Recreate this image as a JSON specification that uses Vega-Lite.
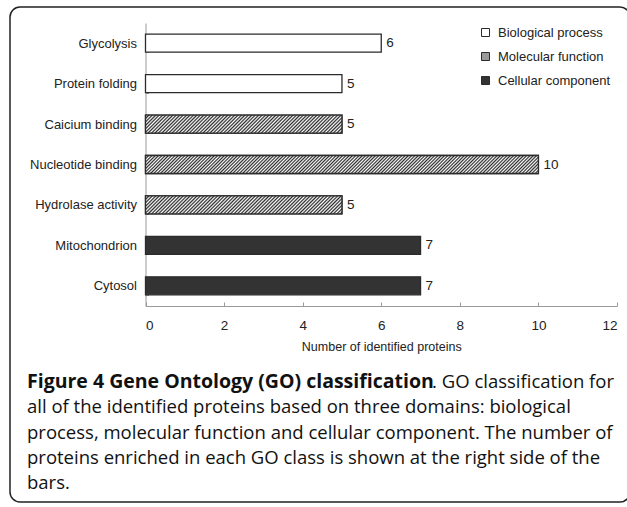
{
  "$schema": "https://vega.github.io/schema/vega-lite/v6.json",
  "width": 620,
  "height": 495,
  "autosize": "none",
  "padding": {"left": 10, "top": 7, "right": -3, "bottom": 5},
  "background": "white",
  "config": {
    "view": {"stroke": "#222222", "strokeWidth": 1.5, "cornerRadius": 10, "fill": "white"},
    "font": "Liberation Sans"
  },
  "datasets": {
    "go": [
      {"term": "Glycolysis", "domain": "Biological process", "count": 6},
      {"term": "Protein folding", "domain": "Biological process", "count": 5},
      {"term": "Caicium binding", "domain": "Molecular function", "count": 5},
      {"term": "Nucleotide binding", "domain": "Molecular function", "count": 10},
      {"term": "Hydrolase activity", "domain": "Molecular function", "count": 5},
      {"term": "Mitochondrion", "domain": "Cellular component", "count": 7},
      {"term": "Cytosol", "domain": "Cellular component", "count": 7}
    ],
    "caption": [
      {"line": 1, "part": "head", "text": "Figure 4 Gene Ontology (GO) classification"},
      {"line": 1, "part": "tail", "text": ". GO classification for"},
      {"line": 2, "part": "body", "text": "all of the identified proteins based on three domains: biological"},
      {"line": 3, "part": "body", "text": "process, molecular function and cellular component. The number of"},
      {"line": 4, "part": "body", "text": "proteins enriched in each GO class is shown at the right side of the"},
      {"line": 5, "part": "body", "text": "bars."}
    ]
  },
  "layer": [
    {
      "data": {"name": "go"},
      "encoding": {
        "y": {
          "field": "term",
          "type": "nominal",
          "sort": null,
          "scale": {"range": [16, 299], "paddingInner": 0.555, "paddingOuter": 0.2775},
          "axis": {
            "title": null,
            "offset": -135.5,
            "domainColor": "#9a9a9a",
            "tickColor": "#9a9a9a",
            "tickSize": -3,
            "tickBand": "extent",
            "labelFontSize": 13,
            "labelColor": "#222222",
            "labelPadding": 12
          }
        },
        "x": {
          "field": "count",
          "type": "quantitative",
          "scale": {"domain": [0, 12], "range": [135.5, 607], "nice": false},
          "axis": {
            "title": "Number of identified proteins",
            "offset": -196,
            "values": [0, 2, 4, 6, 8, 10, 12],
            "grid": false,
            "domainColor": "#9a9a9a",
            "tickColor": "#9a9a9a",
            "tickSize": -4,
            "labelFontSize": 13.5,
            "labelColor": "#222222",
            "labelPadding": 16,
            "titleFontSize": 12.5,
            "titleFontWeight": "normal",
            "titleColor": "#222222",
            "titlePadding": 9
          }
        }
      },
      "layer": [
        {
          "mark": {"type": "bar", "stroke": "#2b2b2b", "strokeWidth": 1.3},
          "encoding": {
            "fill": {
              "field": "domain",
              "type": "nominal",
              "scale": {
                "domain": ["Biological process", "Molecular function", "Cellular component"],
                "range": ["#ffffff", "#9a9a9a", "#333333"]
              },
              "legend": {
                "title": null,
                "orient": "none",
                "legendX": 469,
                "legendY": 19,
                "padding": 0,
                "symbolType": "square",
                "symbolSize": 64,
                "symbolStrokeColor": "#2b2b2b",
                "symbolStrokeWidth": 1,
                "labelFontSize": 13,
                "labelColor": "#222222",
                "labelOffset": 6,
                "rowPadding": 10
              }
            }
          }
        },
        {
          "transform": [{"filter": "datum.domain === 'Molecular function' && datum.count === 5"}],
          "mark": {
            "type": "bar",
            "stroke": "#2b2b2b",
            "strokeWidth": 1.3,
            "fill": {
              "gradient": "linear",
              "x1": 0, "y1": 0, "x2": 1.08249, "y2": 0.099125,
              "stops": [
                {"offset": 0, "color": "#2a2a2a"}, {"offset": 0.008, "color": "#ffffff"},
                {"offset": 0.016, "color": "#2a2a2a"}, {"offset": 0.024, "color": "#ffffff"},
                {"offset": 0.032, "color": "#2a2a2a"}, {"offset": 0.04, "color": "#ffffff"},
                {"offset": 0.048, "color": "#2a2a2a"}, {"offset": 0.056, "color": "#ffffff"},
                {"offset": 0.064, "color": "#2a2a2a"}, {"offset": 0.072, "color": "#ffffff"},
                {"offset": 0.08, "color": "#2a2a2a"}, {"offset": 0.088, "color": "#ffffff"},
                {"offset": 0.096, "color": "#2a2a2a"}, {"offset": 0.104, "color": "#ffffff"},
                {"offset": 0.112, "color": "#2a2a2a"}, {"offset": 0.12, "color": "#ffffff"},
                {"offset": 0.128, "color": "#2a2a2a"}, {"offset": 0.136, "color": "#ffffff"},
                {"offset": 0.144, "color": "#2a2a2a"}, {"offset": 0.152, "color": "#ffffff"},
                {"offset": 0.16, "color": "#2a2a2a"}, {"offset": 0.168, "color": "#ffffff"},
                {"offset": 0.176, "color": "#2a2a2a"}, {"offset": 0.184, "color": "#ffffff"},
                {"offset": 0.192, "color": "#2a2a2a"}, {"offset": 0.2, "color": "#ffffff"},
                {"offset": 0.208, "color": "#2a2a2a"}, {"offset": 0.216, "color": "#ffffff"},
                {"offset": 0.224, "color": "#2a2a2a"}, {"offset": 0.232, "color": "#ffffff"},
                {"offset": 0.24, "color": "#2a2a2a"}, {"offset": 0.248, "color": "#ffffff"},
                {"offset": 0.256, "color": "#2a2a2a"}, {"offset": 0.264, "color": "#ffffff"},
                {"offset": 0.272, "color": "#2a2a2a"}, {"offset": 0.28, "color": "#ffffff"},
                {"offset": 0.288, "color": "#2a2a2a"}, {"offset": 0.296, "color": "#ffffff"},
                {"offset": 0.304, "color": "#2a2a2a"}, {"offset": 0.312, "color": "#ffffff"},
                {"offset": 0.32, "color": "#2a2a2a"}, {"offset": 0.328, "color": "#ffffff"},
                {"offset": 0.336, "color": "#2a2a2a"}, {"offset": 0.344, "color": "#ffffff"},
                {"offset": 0.352, "color": "#2a2a2a"}, {"offset": 0.36, "color": "#ffffff"},
                {"offset": 0.368, "color": "#2a2a2a"}, {"offset": 0.376, "color": "#ffffff"},
                {"offset": 0.384, "color": "#2a2a2a"}, {"offset": 0.392, "color": "#ffffff"},
                {"offset": 0.4, "color": "#2a2a2a"}, {"offset": 0.408, "color": "#ffffff"},
                {"offset": 0.416, "color": "#2a2a2a"}, {"offset": 0.424, "color": "#ffffff"},
                {"offset": 0.432, "color": "#2a2a2a"}, {"offset": 0.44, "color": "#ffffff"},
                {"offset": 0.448, "color": "#2a2a2a"}, {"offset": 0.456, "color": "#ffffff"},
                {"offset": 0.464, "color": "#2a2a2a"}, {"offset": 0.472, "color": "#ffffff"},
                {"offset": 0.48, "color": "#2a2a2a"}, {"offset": 0.488, "color": "#ffffff"},
                {"offset": 0.496, "color": "#2a2a2a"}, {"offset": 0.504, "color": "#ffffff"},
                {"offset": 0.512, "color": "#2a2a2a"}, {"offset": 0.52, "color": "#ffffff"},
                {"offset": 0.528, "color": "#2a2a2a"}, {"offset": 0.536, "color": "#ffffff"},
                {"offset": 0.544, "color": "#2a2a2a"}, {"offset": 0.552, "color": "#ffffff"},
                {"offset": 0.56, "color": "#2a2a2a"}, {"offset": 0.568, "color": "#ffffff"},
                {"offset": 0.576, "color": "#2a2a2a"}, {"offset": 0.584, "color": "#ffffff"},
                {"offset": 0.592, "color": "#2a2a2a"}, {"offset": 0.6, "color": "#ffffff"},
                {"offset": 0.608, "color": "#2a2a2a"}, {"offset": 0.616, "color": "#ffffff"},
                {"offset": 0.624, "color": "#2a2a2a"}, {"offset": 0.632, "color": "#ffffff"},
                {"offset": 0.64, "color": "#2a2a2a"}, {"offset": 0.648, "color": "#ffffff"},
                {"offset": 0.656, "color": "#2a2a2a"}, {"offset": 0.664, "color": "#ffffff"},
                {"offset": 0.672, "color": "#2a2a2a"}, {"offset": 0.68, "color": "#ffffff"},
                {"offset": 0.688, "color": "#2a2a2a"}, {"offset": 0.696, "color": "#ffffff"},
                {"offset": 0.704, "color": "#2a2a2a"}, {"offset": 0.712, "color": "#ffffff"},
                {"offset": 0.72, "color": "#2a2a2a"}, {"offset": 0.728, "color": "#ffffff"},
                {"offset": 0.736, "color": "#2a2a2a"}, {"offset": 0.744, "color": "#ffffff"},
                {"offset": 0.752, "color": "#2a2a2a"}, {"offset": 0.76, "color": "#ffffff"},
                {"offset": 0.768, "color": "#2a2a2a"}, {"offset": 0.776, "color": "#ffffff"},
                {"offset": 0.784, "color": "#2a2a2a"}, {"offset": 0.792, "color": "#ffffff"},
                {"offset": 0.8, "color": "#2a2a2a"}, {"offset": 0.808, "color": "#ffffff"},
                {"offset": 0.816, "color": "#2a2a2a"}, {"offset": 0.824, "color": "#ffffff"},
                {"offset": 0.832, "color": "#2a2a2a"}, {"offset": 0.84, "color": "#ffffff"},
                {"offset": 0.848, "color": "#2a2a2a"}, {"offset": 0.856, "color": "#ffffff"},
                {"offset": 0.864, "color": "#2a2a2a"}, {"offset": 0.872, "color": "#ffffff"},
                {"offset": 0.88, "color": "#2a2a2a"}, {"offset": 0.888, "color": "#ffffff"},
                {"offset": 0.896, "color": "#2a2a2a"}, {"offset": 0.904, "color": "#ffffff"},
                {"offset": 0.912, "color": "#2a2a2a"}, {"offset": 0.92, "color": "#ffffff"},
                {"offset": 0.928, "color": "#2a2a2a"}, {"offset": 0.936, "color": "#ffffff"},
                {"offset": 0.944, "color": "#2a2a2a"}, {"offset": 0.952, "color": "#ffffff"},
                {"offset": 0.96, "color": "#2a2a2a"}, {"offset": 0.968, "color": "#ffffff"},
                {"offset": 0.976, "color": "#2a2a2a"}, {"offset": 0.984, "color": "#ffffff"},
                {"offset": 0.992, "color": "#2a2a2a"}, {"offset": 1, "color": "#ffffff"}
              ]
            }
          }
        },
        {
          "transform": [{"filter": "datum.domain === 'Molecular function' && datum.count === 10"}],
          "mark": {
            "type": "bar",
            "stroke": "#2b2b2b",
            "strokeWidth": 1.3,
            "fill": {
              "gradient": "linear",
              "x1": 0, "y1": 0, "x2": 1.0436, "y2": 0.04778,
              "stops": [
                {"offset": 0, "color": "#2a2a2a"}, {"offset": 0.004, "color": "#ffffff"},
                {"offset": 0.008, "color": "#2a2a2a"}, {"offset": 0.012, "color": "#ffffff"},
                {"offset": 0.016, "color": "#2a2a2a"}, {"offset": 0.02, "color": "#ffffff"},
                {"offset": 0.024, "color": "#2a2a2a"}, {"offset": 0.028, "color": "#ffffff"},
                {"offset": 0.032, "color": "#2a2a2a"}, {"offset": 0.036, "color": "#ffffff"},
                {"offset": 0.04, "color": "#2a2a2a"}, {"offset": 0.044, "color": "#ffffff"},
                {"offset": 0.048, "color": "#2a2a2a"}, {"offset": 0.052, "color": "#ffffff"},
                {"offset": 0.056, "color": "#2a2a2a"}, {"offset": 0.06, "color": "#ffffff"},
                {"offset": 0.064, "color": "#2a2a2a"}, {"offset": 0.068, "color": "#ffffff"},
                {"offset": 0.072, "color": "#2a2a2a"}, {"offset": 0.076, "color": "#ffffff"},
                {"offset": 0.08, "color": "#2a2a2a"}, {"offset": 0.084, "color": "#ffffff"},
                {"offset": 0.088, "color": "#2a2a2a"}, {"offset": 0.092, "color": "#ffffff"},
                {"offset": 0.096, "color": "#2a2a2a"}, {"offset": 0.1, "color": "#ffffff"},
                {"offset": 0.104, "color": "#2a2a2a"}, {"offset": 0.108, "color": "#ffffff"},
                {"offset": 0.112, "color": "#2a2a2a"}, {"offset": 0.116, "color": "#ffffff"},
                {"offset": 0.12, "color": "#2a2a2a"}, {"offset": 0.124, "color": "#ffffff"},
                {"offset": 0.128, "color": "#2a2a2a"}, {"offset": 0.132, "color": "#ffffff"},
                {"offset": 0.136, "color": "#2a2a2a"}, {"offset": 0.14, "color": "#ffffff"},
                {"offset": 0.144, "color": "#2a2a2a"}, {"offset": 0.148, "color": "#ffffff"},
                {"offset": 0.152, "color": "#2a2a2a"}, {"offset": 0.156, "color": "#ffffff"},
                {"offset": 0.16, "color": "#2a2a2a"}, {"offset": 0.164, "color": "#ffffff"},
                {"offset": 0.168, "color": "#2a2a2a"}, {"offset": 0.172, "color": "#ffffff"},
                {"offset": 0.176, "color": "#2a2a2a"}, {"offset": 0.18, "color": "#ffffff"},
                {"offset": 0.184, "color": "#2a2a2a"}, {"offset": 0.188, "color": "#ffffff"},
                {"offset": 0.192, "color": "#2a2a2a"}, {"offset": 0.196, "color": "#ffffff"},
                {"offset": 0.2, "color": "#2a2a2a"}, {"offset": 0.204, "color": "#ffffff"},
                {"offset": 0.208, "color": "#2a2a2a"}, {"offset": 0.212, "color": "#ffffff"},
                {"offset": 0.216, "color": "#2a2a2a"}, {"offset": 0.22, "color": "#ffffff"},
                {"offset": 0.224, "color": "#2a2a2a"}, {"offset": 0.228, "color": "#ffffff"},
                {"offset": 0.232, "color": "#2a2a2a"}, {"offset": 0.236, "color": "#ffffff"},
                {"offset": 0.24, "color": "#2a2a2a"}, {"offset": 0.244, "color": "#ffffff"},
                {"offset": 0.248, "color": "#2a2a2a"}, {"offset": 0.252, "color": "#ffffff"},
                {"offset": 0.256, "color": "#2a2a2a"}, {"offset": 0.26, "color": "#ffffff"},
                {"offset": 0.264, "color": "#2a2a2a"}, {"offset": 0.268, "color": "#ffffff"},
                {"offset": 0.272, "color": "#2a2a2a"}, {"offset": 0.276, "color": "#ffffff"},
                {"offset": 0.28, "color": "#2a2a2a"}, {"offset": 0.284, "color": "#ffffff"},
                {"offset": 0.288, "color": "#2a2a2a"}, {"offset": 0.292, "color": "#ffffff"},
                {"offset": 0.296, "color": "#2a2a2a"}, {"offset": 0.3, "color": "#ffffff"},
                {"offset": 0.304, "color": "#2a2a2a"}, {"offset": 0.308, "color": "#ffffff"},
                {"offset": 0.312, "color": "#2a2a2a"}, {"offset": 0.316, "color": "#ffffff"},
                {"offset": 0.32, "color": "#2a2a2a"}, {"offset": 0.324, "color": "#ffffff"},
                {"offset": 0.328, "color": "#2a2a2a"}, {"offset": 0.332, "color": "#ffffff"},
                {"offset": 0.336, "color": "#2a2a2a"}, {"offset": 0.34, "color": "#ffffff"},
                {"offset": 0.344, "color": "#2a2a2a"}, {"offset": 0.348, "color": "#ffffff"},
                {"offset": 0.352, "color": "#2a2a2a"}, {"offset": 0.356, "color": "#ffffff"},
                {"offset": 0.36, "color": "#2a2a2a"}, {"offset": 0.364, "color": "#ffffff"},
                {"offset": 0.368, "color": "#2a2a2a"}, {"offset": 0.372, "color": "#ffffff"},
                {"offset": 0.376, "color": "#2a2a2a"}, {"offset": 0.38, "color": "#ffffff"},
                {"offset": 0.384, "color": "#2a2a2a"}, {"offset": 0.388, "color": "#ffffff"},
                {"offset": 0.392, "color": "#2a2a2a"}, {"offset": 0.396, "color": "#ffffff"},
                {"offset": 0.4, "color": "#2a2a2a"}, {"offset": 0.404, "color": "#ffffff"},
                {"offset": 0.408, "color": "#2a2a2a"}, {"offset": 0.412, "color": "#ffffff"},
                {"offset": 0.416, "color": "#2a2a2a"}, {"offset": 0.42, "color": "#ffffff"},
                {"offset": 0.424, "color": "#2a2a2a"}, {"offset": 0.428, "color": "#ffffff"},
                {"offset": 0.432, "color": "#2a2a2a"}, {"offset": 0.436, "color": "#ffffff"},
                {"offset": 0.44, "color": "#2a2a2a"}, {"offset": 0.444, "color": "#ffffff"},
                {"offset": 0.448, "color": "#2a2a2a"}, {"offset": 0.452, "color": "#ffffff"},
                {"offset": 0.456, "color": "#2a2a2a"}, {"offset": 0.46, "color": "#ffffff"},
                {"offset": 0.464, "color": "#2a2a2a"}, {"offset": 0.468, "color": "#ffffff"},
                {"offset": 0.472, "color": "#2a2a2a"}, {"offset": 0.476, "color": "#ffffff"},
                {"offset": 0.48, "color": "#2a2a2a"}, {"offset": 0.484, "color": "#ffffff"},
                {"offset": 0.488, "color": "#2a2a2a"}, {"offset": 0.492, "color": "#ffffff"},
                {"offset": 0.496, "color": "#2a2a2a"}, {"offset": 0.5, "color": "#ffffff"},
                {"offset": 0.504, "color": "#2a2a2a"}, {"offset": 0.508, "color": "#ffffff"},
                {"offset": 0.512, "color": "#2a2a2a"}, {"offset": 0.516, "color": "#ffffff"},
                {"offset": 0.52, "color": "#2a2a2a"}, {"offset": 0.524, "color": "#ffffff"},
                {"offset": 0.528, "color": "#2a2a2a"}, {"offset": 0.532, "color": "#ffffff"},
                {"offset": 0.536, "color": "#2a2a2a"}, {"offset": 0.54, "color": "#ffffff"},
                {"offset": 0.544, "color": "#2a2a2a"}, {"offset": 0.548, "color": "#ffffff"},
                {"offset": 0.552, "color": "#2a2a2a"}, {"offset": 0.556, "color": "#ffffff"},
                {"offset": 0.56, "color": "#2a2a2a"}, {"offset": 0.564, "color": "#ffffff"},
                {"offset": 0.568, "color": "#2a2a2a"}, {"offset": 0.572, "color": "#ffffff"},
                {"offset": 0.576, "color": "#2a2a2a"}, {"offset": 0.58, "color": "#ffffff"},
                {"offset": 0.584, "color": "#2a2a2a"}, {"offset": 0.588, "color": "#ffffff"},
                {"offset": 0.592, "color": "#2a2a2a"}, {"offset": 0.596, "color": "#ffffff"},
                {"offset": 0.6, "color": "#2a2a2a"}, {"offset": 0.604, "color": "#ffffff"},
                {"offset": 0.608, "color": "#2a2a2a"}, {"offset": 0.612, "color": "#ffffff"},
                {"offset": 0.616, "color": "#2a2a2a"}, {"offset": 0.62, "color": "#ffffff"},
                {"offset": 0.624, "color": "#2a2a2a"}, {"offset": 0.628, "color": "#ffffff"},
                {"offset": 0.632, "color": "#2a2a2a"}, {"offset": 0.636, "color": "#ffffff"},
                {"offset": 0.64, "color": "#2a2a2a"}, {"offset": 0.644, "color": "#ffffff"},
                {"offset": 0.648, "color": "#2a2a2a"}, {"offset": 0.652, "color": "#ffffff"},
                {"offset": 0.656, "color": "#2a2a2a"}, {"offset": 0.66, "color": "#ffffff"},
                {"offset": 0.664, "color": "#2a2a2a"}, {"offset": 0.668, "color": "#ffffff"},
                {"offset": 0.672, "color": "#2a2a2a"}, {"offset": 0.676, "color": "#ffffff"},
                {"offset": 0.68, "color": "#2a2a2a"}, {"offset": 0.684, "color": "#ffffff"},
                {"offset": 0.688, "color": "#2a2a2a"}, {"offset": 0.692, "color": "#ffffff"},
                {"offset": 0.696, "color": "#2a2a2a"}, {"offset": 0.7, "color": "#ffffff"},
                {"offset": 0.704, "color": "#2a2a2a"}, {"offset": 0.708, "color": "#ffffff"},
                {"offset": 0.712, "color": "#2a2a2a"}, {"offset": 0.716, "color": "#ffffff"},
                {"offset": 0.72, "color": "#2a2a2a"}, {"offset": 0.724, "color": "#ffffff"},
                {"offset": 0.728, "color": "#2a2a2a"}, {"offset": 0.732, "color": "#ffffff"},
                {"offset": 0.736, "color": "#2a2a2a"}, {"offset": 0.74, "color": "#ffffff"},
                {"offset": 0.744, "color": "#2a2a2a"}, {"offset": 0.748, "color": "#ffffff"},
                {"offset": 0.752, "color": "#2a2a2a"}, {"offset": 0.756, "color": "#ffffff"},
                {"offset": 0.76, "color": "#2a2a2a"}, {"offset": 0.764, "color": "#ffffff"},
                {"offset": 0.768, "color": "#2a2a2a"}, {"offset": 0.772, "color": "#ffffff"},
                {"offset": 0.776, "color": "#2a2a2a"}, {"offset": 0.78, "color": "#ffffff"},
                {"offset": 0.784, "color": "#2a2a2a"}, {"offset": 0.788, "color": "#ffffff"},
                {"offset": 0.792, "color": "#2a2a2a"}, {"offset": 0.796, "color": "#ffffff"},
                {"offset": 0.8, "color": "#2a2a2a"}, {"offset": 0.804, "color": "#ffffff"},
                {"offset": 0.808, "color": "#2a2a2a"}, {"offset": 0.812, "color": "#ffffff"},
                {"offset": 0.816, "color": "#2a2a2a"}, {"offset": 0.82, "color": "#ffffff"},
                {"offset": 0.824, "color": "#2a2a2a"}, {"offset": 0.828, "color": "#ffffff"},
                {"offset": 0.832, "color": "#2a2a2a"}, {"offset": 0.836, "color": "#ffffff"},
                {"offset": 0.84, "color": "#2a2a2a"}, {"offset": 0.844, "color": "#ffffff"},
                {"offset": 0.848, "color": "#2a2a2a"}, {"offset": 0.852, "color": "#ffffff"},
                {"offset": 0.856, "color": "#2a2a2a"}, {"offset": 0.86, "color": "#ffffff"},
                {"offset": 0.864, "color": "#2a2a2a"}, {"offset": 0.868, "color": "#ffffff"},
                {"offset": 0.872, "color": "#2a2a2a"}, {"offset": 0.876, "color": "#ffffff"},
                {"offset": 0.88, "color": "#2a2a2a"}, {"offset": 0.884, "color": "#ffffff"},
                {"offset": 0.888, "color": "#2a2a2a"}, {"offset": 0.892, "color": "#ffffff"},
                {"offset": 0.896, "color": "#2a2a2a"}, {"offset": 0.9, "color": "#ffffff"},
                {"offset": 0.904, "color": "#2a2a2a"}, {"offset": 0.908, "color": "#ffffff"},
                {"offset": 0.912, "color": "#2a2a2a"}, {"offset": 0.916, "color": "#ffffff"},
                {"offset": 0.92, "color": "#2a2a2a"}, {"offset": 0.924, "color": "#ffffff"},
                {"offset": 0.928, "color": "#2a2a2a"}, {"offset": 0.932, "color": "#ffffff"},
                {"offset": 0.936, "color": "#2a2a2a"}, {"offset": 0.94, "color": "#ffffff"},
                {"offset": 0.944, "color": "#2a2a2a"}, {"offset": 0.948, "color": "#ffffff"},
                {"offset": 0.952, "color": "#2a2a2a"}, {"offset": 0.956, "color": "#ffffff"},
                {"offset": 0.96, "color": "#2a2a2a"}, {"offset": 0.964, "color": "#ffffff"},
                {"offset": 0.968, "color": "#2a2a2a"}, {"offset": 0.972, "color": "#ffffff"},
                {"offset": 0.976, "color": "#2a2a2a"}, {"offset": 0.98, "color": "#ffffff"},
                {"offset": 0.984, "color": "#2a2a2a"}, {"offset": 0.988, "color": "#ffffff"},
                {"offset": 0.992, "color": "#2a2a2a"}, {"offset": 0.996, "color": "#ffffff"},
                {"offset": 1, "color": "#2a2a2a"}
              ]
            }
          }
        },
        {
          "mark": {"type": "text", "align": "left", "baseline": "middle", "dx": 5, "fontSize": 13.5, "color": "#222222"},
          "encoding": {"text": {"field": "count", "type": "quantitative"}}
        }
      ]
    },
    {
      "data": {"name": "caption"},
      "encoding": {
        "y": {"field": "line", "type": "ordinal", "scale": {"type": "point", "range": [375, 476], "padding": 0}, "axis": null}
      },
      "layer": [
        {
          "transform": [{"filter": "datum.part === 'head'"}],
          "mark": {"type": "text", "align": "left", "baseline": "middle", "font": "Open Sans", "fontSize": 19.5, "fontWeight": "bold", "color": "#111111"},
          "encoding": {"x": {"datum": -3.016}, "text": {"field": "text", "type": "nominal"}}
        },
        {
          "transform": [{"filter": "datum.part === 'tail'"}],
          "mark": {"type": "text", "align": "right", "baseline": "middle", "font": "Open Sans", "fontSize": 18.5, "color": "#111111"},
          "encoding": {"x": {"datum": 11.924}, "text": {"field": "text", "type": "nominal"}}
        },
        {
          "transform": [{"filter": "datum.part === 'body'"}],
          "mark": {"type": "text", "align": "left", "baseline": "middle", "font": "Open Sans", "fontSize": 18.5, "color": "#111111"},
          "encoding": {"x": {"datum": -3.016}, "text": {"field": "text", "type": "nominal"}}
        }
      ]
    }
  ],
  "resolve": {"scale": {"y": "independent"}}
}
